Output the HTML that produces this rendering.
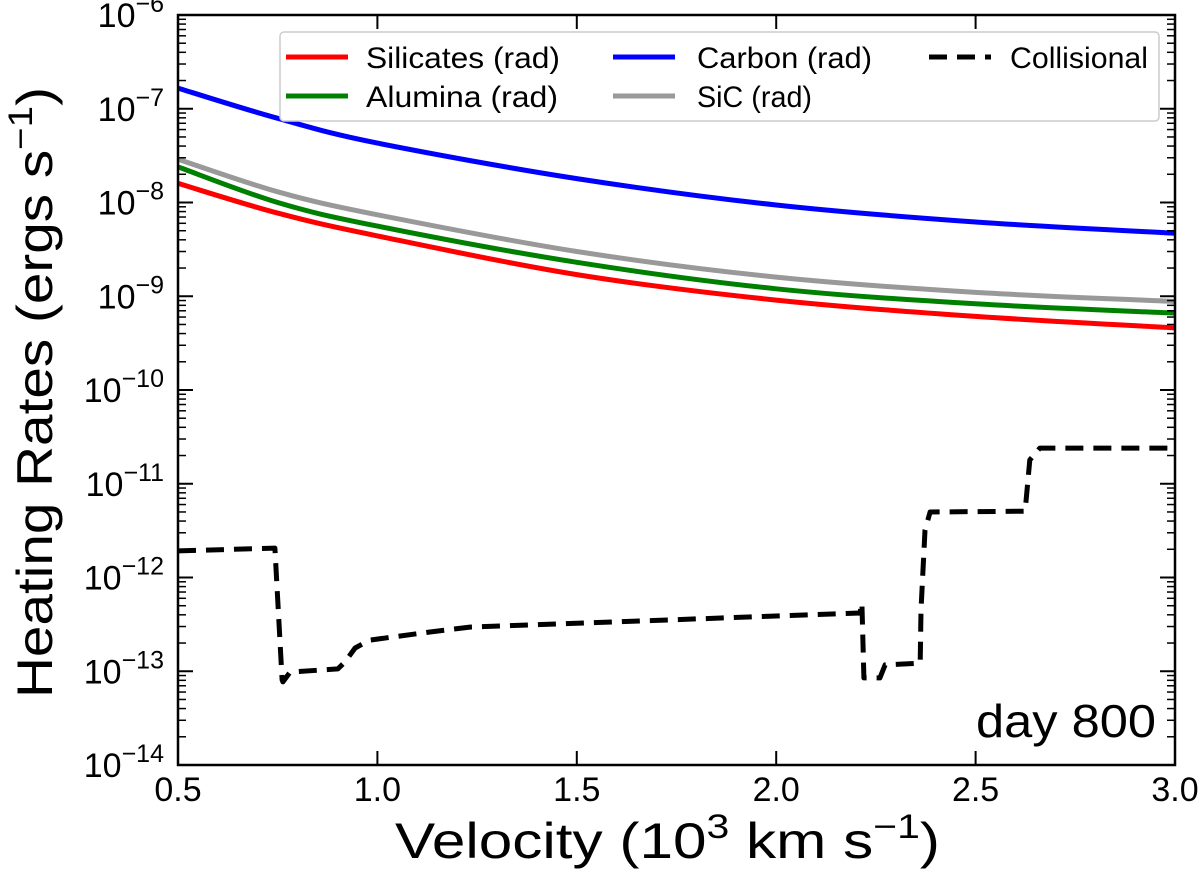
<!DOCTYPE html>
<html><head><meta charset="utf-8"><style>
body{margin:0;background:#fff;}
svg{display:block;font-family:"Liberation Sans","DejaVu Sans",sans-serif;}
</style></head><body>
<svg id="chart" width="1200" height="873" viewBox="0 0 1200 873">
</svg>
<script>
const xTicks=[0.5,1.0,1.5,2.0,2.5,3.0];
const yExps=[-14,-13,-12,-11,-10,-9,-8,-7,-6];
const radX=[0.5,0.75,1.0,1.5,2.0,2.5,3.0];
const silicates=[1.6e-8,7.7e-9,4.4e-9,1.7e-9,9.1e-10,6.1e-10,4.6e-10];
const alumina=[2.4e-8,1.0e-8,5.6e-9,2.3e-9,1.2e-9,8.3e-10,6.6e-10];
const carbon=[1.66e-7,7.9e-8,4.3e-8,1.8e-8,9.4e-9,6.2e-9,4.7e-9];
const sic=[2.9e-8,1.3e-8,7.4e-9,3.0e-9,1.6e-9,1.1e-9,8.8e-10];
const collX=[0.5,0.743,0.761,0.763,0.781,0.901,0.919,0.944,0.981,1.132,1.232,2.210,2.215,2.220,2.260,2.273,2.361,2.363,2.373,2.386,2.624,2.636,2.661,3.0];
const collY=[1.92e-12,2.06e-12,8.1e-14,7.7e-14,9.8e-14,1.06e-13,1.26e-13,1.77e-13,2.15e-13,2.62e-13,2.96e-13,4.18e-13,5.35e-13,8.5e-14,8.5e-14,1.17e-13,1.22e-13,4.5e-13,3.2e-12,5.0e-12,5.1e-12,1.79e-11,2.4e-11,2.4e-11];

const L=178,R=1175,T=15,B=765;
const sx=v=>L+(v-0.5)/(2.5)*(R-L);
const sy=v=>T+(-6-Math.log10(v))/8*(B-T);
const NS='http://www.w3.org/2000/svg';
const svg=document.getElementById('chart');
function mk(tag,attrs,parent){const e=document.createElementNS(NS,tag);for(const k in attrs)e.setAttribute(k,attrs[k]);(parent||svg).appendChild(e);return e;}

function linePath(xs,ys){return xs.map((x,i)=>(i?'L':'M')+sx(x).toFixed(1)+','+sy(ys[i]).toFixed(1)).join('');}
function curvePath(xs,ys){
  const P=xs.map((x,i)=>[sx(x),sy(ys[i])]);
  let d='M'+P[0][0].toFixed(1)+','+P[0][1].toFixed(1);
  for(let i=0;i<P.length-1;i++){
    const p0=P[Math.max(0,i-1)],p1=P[i],p2=P[i+1],p3=P[Math.min(P.length-1,i+2)];
    const c1=[p1[0]+(p2[0]-p0[0])/6,p1[1]+(p2[1]-p0[1])/6];
    const c2=[p2[0]-(p3[0]-p1[0])/6,p2[1]-(p3[1]-p1[1])/6];
    d+='C'+c1.map(v=>v.toFixed(1)).join(',')+' '+c2.map(v=>v.toFixed(1)).join(',')+' '+p2.map(v=>v.toFixed(1)).join(',');
  }
  return d;
}
function addPath(d,color,name,dash){
  const p=mk('path',{d:d,fill:'none',stroke:color,'stroke-width':5,'stroke-linejoin':'round'});
  if(dash)p.setAttribute('stroke-dasharray',dash);
  
  
}
addPath(curvePath(radX,silicates),'#ff0000','silicates-line');
addPath(curvePath(radX,alumina),'#008000','alumina-line');
addPath(curvePath(radX,carbon),'#0000ff','carbon-line');
addPath(curvePath(radX,sic),'#999999','sic-line');
addPath(linePath(collX,collY),'#000','collisional-line','18,10');

const fr=mk('rect',{x:L,y:T,width:R-L,height:B-T,fill:'none',stroke:'#000','stroke-width':2.5});



for(const v of xTicks){
  const x=sx(v);
  mk('line',{x1:x,x2:x,y1:B,y2:B-14,stroke:'#000','stroke-width':2});
  mk('line',{x1:x,x2:x,y1:T,y2:T+14,stroke:'#000','stroke-width':2});
  const t=mk('text',{x:x,y:B+36,'text-anchor':'middle','font-size':34});t.textContent=v.toFixed(1);
  
  
}
for(const e of yExps){
  const y=sy(Math.pow(10,e));
  mk('line',{x1:L,x2:L+15,y1:y,y2:y,stroke:'#000','stroke-width':2});
  mk('line',{x1:R,x2:R-15,y1:y,y2:y,stroke:'#000','stroke-width':2});
  if(e<-6)for(let m=2;m<10;m++){const ym=sy(m*Math.pow(10,e));
    mk('line',{x1:L,x2:L+8,y1:ym,y2:ym,stroke:'#000','stroke-width':1.5});
    mk('line',{x1:R,x2:R-8,y1:ym,y2:ym,stroke:'#000','stroke-width':1.5});}
  const t=mk('text',{x:L-14,y:y+12,'text-anchor':'end','font-size':34});
  
  
  t.appendChild(document.createTextNode('10'));
  const s=mk('tspan',{dy:-15,'font-size':25},t);s.textContent='\u2212'+(-e);
}
let t=mk('text',{x:395,y:858,'font-size':50,textLength:545,lengthAdjust:'spacingAndGlyphs'});


t.innerHTML='Velocity (10<tspan dy="-20" font-size="34">3</tspan><tspan dy="20"> km s</tspan><tspan dy="-20" font-size="34">\u22121</tspan><tspan dy="20">)</tspan>';
t=mk('text',{x:0,y:0,'font-size':50,textLength:611,lengthAdjust:'spacingAndGlyphs',transform:'translate(52,698) rotate(-90)'});


t.innerHTML='Heating Rates (ergs s<tspan dy="-20" font-size="34">\u22121</tspan><tspan dy="20">)</tspan>';
t=mk('text',{x:976,y:737,'font-size':46,textLength:180,lengthAdjust:'spacingAndGlyphs'});t.textContent='day 800';



const lg=mk('g',{});


mk('rect',{x:280,y:32,width:879,height:89,fill:'#fff',stroke:'#ccc','stroke-width':1.5,rx:4},lg);
const ents=[['Silicates (rad)','#ff0000',286,57,366,194,null],['Carbon (rad)','#0000ff',613,57,697,175,null],['Collisional','#000',929,57,1010,138,'18,10'],['Alumina (rad)','#008000',286,96,366,192,null],['SiC (rad)','#999999',613,96,697,115,null]];
for(const [lab,c,x,y,tx,tw,d] of ents){
  const g=mk('g',{},lg);
  
  
  const l=mk('line',{x1:x,x2:x+62,y1:y,y2:y,stroke:c,'stroke-width':5},g);if(d)l.setAttribute('stroke-dasharray',d);
  const te=mk('text',{x:tx,y:y+11,'font-size':30,textLength:tw,lengthAdjust:'spacingAndGlyphs'},g);te.textContent=lab;
}
</script>
</body></html>
